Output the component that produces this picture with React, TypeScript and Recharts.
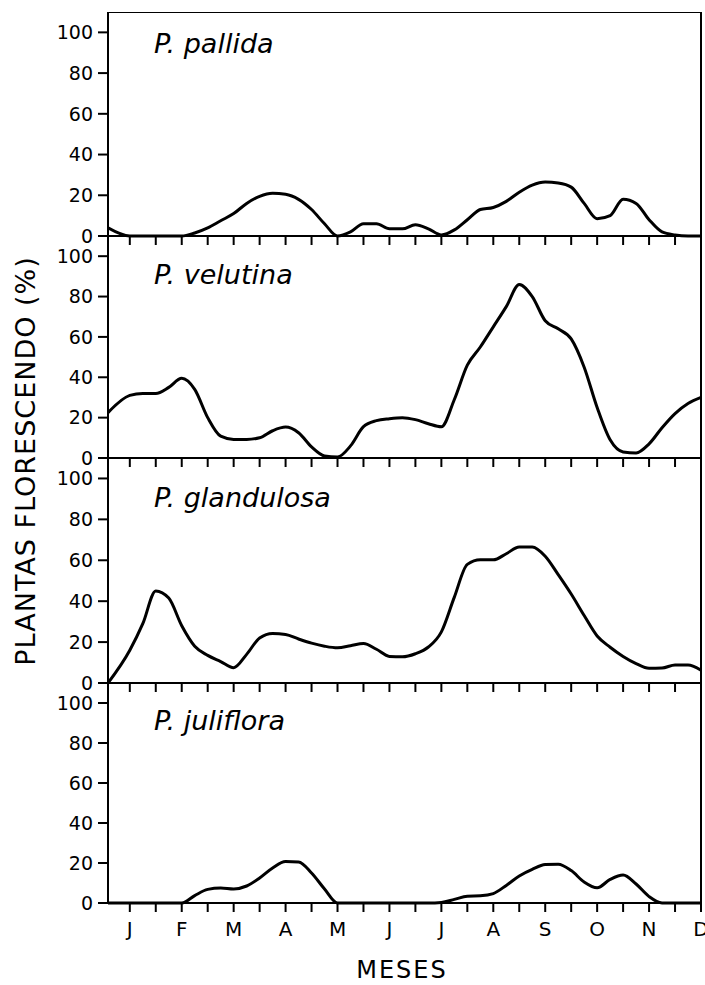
import {
  LineChart,
  Line,
  XAxis,
  YAxis,
  ReferenceArea
} from "recharts"

// x positions in months (J = 0 ... D = 11)
const X_START = -0.42
const X_END = 11

const MONTH_POS = [
  -0.42, 0, 0.25, 0.5, 0.75, 1, 1.25, 1.5, 1.75, 2, 2.25, 2.5, 2.75, 3, 3.25, 3.5,
  3.75, 4, 4.25, 4.5, 4.75, 5, 5.25, 5.5, 5.75, 6, 6.25, 6.5, 6.75, 7, 7.25, 7.5,
  7.75, 8, 8.25, 8.5, 8.75, 9, 9.25, 9.5, 9.75, 10, 10.25, 10.5, 10.75, 11
]

const MONTHS = ["J", "F", "M", "A", "M", "J", "J", "A", "S", "O", "N", "D"]

const HALF_TICKS = [
  0, 0.5, 1, 1.5, 2, 2.5, 3, 3.5, 4, 4.5, 5, 5.5, 6, 6.5, 7, 7.5, 8, 8.5, 9, 9.5,
  10, 10.5, 11
]

const Y_TICKS = [0, 20, 40, 60, 80, 100]

const SPECIES = ["pallida", "velutina", "glandulosa", "juliflora"]

const pallida = [
  4, 0, 0, 0, 0, 0, 1.5, 4, 7.5, 11, 16, 19.5, 21, 20.5, 18, 13,
  6, 0, 2, 6, 6, 3.5, 3.5, 5.5, 3.5, 0.5, 3, 8, 13, 14, 17, 21.5,
  25, 26.5, 26, 24, 16, 8.5, 10, 18, 16, 8, 2, 0.5, 0, 0
]

const velutina = [
  22.5, 31, 32, 32, 35, 39.5, 34, 20, 10.8, 9.2, 9.2, 10, 13.5, 15.3, 12.5, 5.5,
  1, 0.5, 6, 15.5, 18.5, 19.5, 20, 19, 17, 15.5, 29, 46, 55, 65, 75, 86,
  80, 68, 64, 59, 45, 25, 9, 3, 2.5, 7, 15, 22, 27, 30
]

const glandulosa = [
  0, 16, 29, 45, 41.5, 28, 18, 13.5, 10.5, 7.5, 14, 22, 24.2, 23.7, 21.5, 19.5,
  18, 17.2, 18.2, 19.3, 16.5, 13, 12.8, 14.3, 17.6, 25, 42, 58, 60.2, 60.2, 63.2, 66.5,
  66.5, 62, 53, 43.5, 33, 23, 17.5, 13, 9.5, 7.2, 7.3, 8.8, 8.8, 6.3
]

const juliflora = [
  0, 0, 0, 0, 0, 0, 3.7, 6.8, 7.5, 7, 8.5, 12.5, 17.5, 20.7, 20.5, 15,
  7, 0, 0, 0, 0, 0, 0, 0, 0, 0.3, 1.8, 3.4, 3.6, 4.7, 8.8, 13.5,
  16.8, 19.2, 19.4, 16.2, 10.5, 7.6, 11.8, 14, 9.5, 3.2, 0, 0, 0, 0
]

const SERIES = [pallida, velutina, glandulosa, juliflora]

// layout
const W = 705
const PLOT_TOP = [12, 236, 458, 683]
const PLOT_BOTTOM = [236, 458, 683, 903]
const TITLE_Y = [53, 284, 507, 730]
const FONT = "'DejaVu Sans', sans-serif"

function MonthTick(props: any) {
  const { x, y, payload } = props
  if (!Number.isInteger(payload.value)) return <g />
  return (
    <text x={x} y={y + 22} textAnchor="middle" fontSize={20} fontFamily={FONT} fill="#000">
      {MONTHS[payload.value]}
    </text>
  )
}

function Panel({ index }: { index: number }) {
  const last = index === SERIES.length - 1
  const xH = last ? 40 : 12
  const plotH = PLOT_BOTTOM[index] - PLOT_TOP[index]
  const data = MONTH_POS.map((m, i) => ({ m, v: SERIES[index][i] }))

  return (
    <div style={{ position: "absolute", left: 0, top: PLOT_TOP[index] }}>
      <LineChart
        width={W}
        height={plotH + xH}
        data={data}
        margin={{ top: 0, right: 4, left: 0, bottom: 0 }}
      >
        <XAxis
          dataKey="m"
          type="number"
          domain={[X_START, X_END]}
          ticks={HALF_TICKS}
          interval={0}
          allowDataOverflow
          height={xH}
          tickSize={9}
          tick={last ? <MonthTick /> : () => <g />}
          axisLine={{ stroke: "#000", strokeWidth: 2 }}
          tickLine={{ stroke: "#000", strokeWidth: 2 }}
        />
        <YAxis
          type="number"
          domain={[0, 110]}
          ticks={Y_TICKS}
          interval={0}
          width={108}
          tickSize={10}
          tickMargin={5}
          tick={{ fill: "#000", fontSize: 19, fontFamily: FONT }}
          axisLine={{ stroke: "#000", strokeWidth: 2 }}
          tickLine={{ stroke: "#000", strokeWidth: 2 }}
        />
        <ReferenceArea
          x1={X_START}
          x2={X_END}
          y1={0}
          y2={110}
          fill="none"
          stroke="#000"
          strokeWidth={2}
          fillOpacity={0}
        />
        <Line
          type="monotone"
          dataKey="v"
          stroke="#000"
          strokeWidth={3}
          dot={false}
          activeDot={false}
          isAnimationActive={false}
        />
      </LineChart>
    </div>
  )
}

export default function App() {
  return (
    <div style={{ position: "absolute", left: 0, top: 0, width: W, height: 985, background: "#fff" }}>
      {SERIES.map((_, i) => (
        <Panel key={i} index={i} />
      ))}

      <svg
        width={W}
        height={985}
        style={{ position: "absolute", left: 0, top: 0, pointerEvents: "none" }}
        fontFamily={FONT}
      >
        {SPECIES.map((name, i) => (
          <text key={name} x={154} y={TITLE_Y[i]} fontSize={27} fontStyle="italic" fill="#000">
            P. {name}
          </text>
        ))}

        <text
          x={35}
          y={461}
          transform="rotate(-90, 35, 461)"
          textAnchor="middle"
          fontSize={27}
          letterSpacing={1}
          fill="#000"
        >
          PLANTAS FLORESCENDO (%)
        </text>

        <text x={402} y={978} textAnchor="middle" fontSize={24} letterSpacing={2} fill="#000">
          MESES
        </text>
      </svg>
    </div>
  )
}
